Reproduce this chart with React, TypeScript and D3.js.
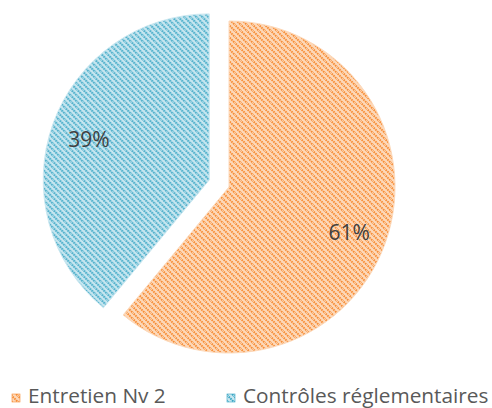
import React from "react";
import * as d3 from "d3";

const categories = ["Entretien Nv 2", "Contrôles réglementaires"];
const values = [61, 39];
const labels = ["61%", "39%"];
const explode = [0, 21];

const W = 492;
const H = 408;
const cx = 229;
const cy = 187;
const R = 166;

const fg = ["#F78C34", "#35A4C3"];
const bg = ["#FDD9BA", "#CBE8F1"];

export default function App() {
  const pie = d3.pie<number>().sort(null).startAngle(0).endAngle(2 * Math.PI);
  const arcs = pie(values);
  const arcGen = d3.arc<d3.PieArcDatum<number>>().innerRadius(0).outerRadius(R);
  const labelArc = d3.arc<d3.PieArcDatum<number>>().innerRadius(R * 0.77).outerRadius(R * 0.77);

  return (
    <div style={{ position: "fixed", left: 0, top: 0 }}>
      <svg width={W} height={H} style={{ display: "block", background: "#fff" }}>
        <defs>
          {fg.map((c, i) => (
            <pattern key={i} id={`pat${i}`} patternUnits="userSpaceOnUse" width={6} height={6}>
              <rect width={6} height={6} fill={bg[i]} />
              <path d="M-1,-1 L7,7 M-1,5 L1,7 M5,-1 L7,1" stroke={c} strokeWidth={2} strokeDasharray="1.6 0.8" />
            </pattern>
          ))}
        </defs>
        {arcs.map((a, i) => {
          const mid = (a.startAngle + a.endAngle) / 2;
          const dx = Math.sin(mid) * explode[i];
          const dy = -Math.cos(mid) * explode[i];
          const [lx, ly] = labelArc.centroid(a);
          return (
            <g key={i} transform={`translate(${cx + dx},${cy + dy})`}>
              <path d={arcGen(a) || ""} fill={`url(#pat${i})`} stroke={bg[i]} strokeWidth={1} />
              <text
                x={lx}
                y={ly + 2}
                textAnchor="middle"
                dominantBaseline="central"
                fontFamily="'Open Sans', sans-serif"
                fontSize={21}
                fill="#404040"
              >
                {labels[i]}
              </text>
            </g>
          );
        })}
        {categories.map((c, i) => {
          const x0 = i === 0 ? 12 : 227;
          return (
            <g key={c}>
              <rect x={x0} y={394} width={8} height={8} fill={`url(#pat${i})`} stroke={fg[i]} strokeWidth={0.6} />
              <text
                x={x0 + 16}
                y={403}
                fontFamily="'Open Sans', sans-serif"
                fontSize={20.8}
                fill="#595959"
              >
                {c}
              </text>
            </g>
          );
        })}
      </svg>
    </div>
  );
}
